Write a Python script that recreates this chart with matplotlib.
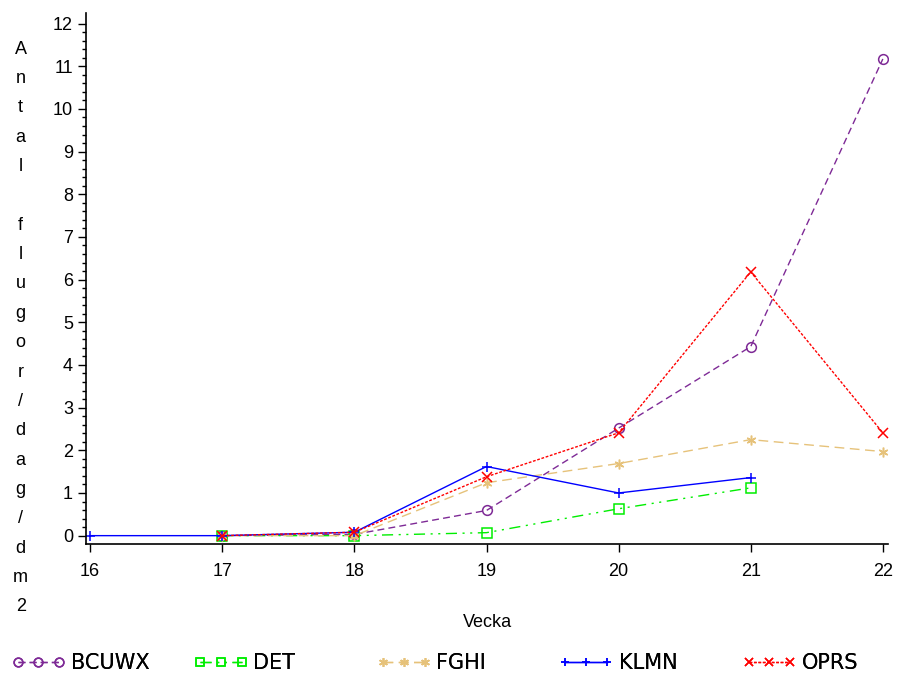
import matplotlib.pyplot as plt
import numpy as np

plt.rcParams['font.family'] = ['Liberation Sans', 'DejaVu Sans']

weeks = [16, 17, 18, 19, 20, 21, 22]
nan = np.nan

# Antal flugor/dag/dm2 per serie
bcuwx = [nan, 0.0, 0.03, 0.59, 2.52, 4.43, 11.17]
det = [nan, 0.0, 0.0, 0.07, 0.63, 1.12, nan]
fghi = [nan, 0.0, 0.0, 1.24, 1.69, 2.25, 1.97]
klmn = [0.0, 0.0, 0.08, 1.62, 1.0, 1.36, nan]
oprs = [nan, 0.0, 0.08, 1.38, 2.41, 6.18, 2.41]

names = ["BCUWX", "DET", "FGHI", "KLMN", "OPRS"]
series = [bcuwx, det, fghi, klmn, oprs]
colors = ["#7E2A96", "#00EE00", "#E6C27A", "#0000FF", "#FF0000"]
markers = ["o", "s", (6, 2, 0), "+", "x"]
styles = [(0, (5, 3)), (0, (8, 4, 1.5, 4, 1.5, 4)), (0, (7, 4)), "-", (0, (2, 1.2))]

fig = plt.figure(figsize=(8.98, 6.78), dpi=100)
ax = fig.add_axes([0.096, 0.198, 0.893, 0.783])

handles = []
for name, vals, c, m, ls in zip(names, series, colors, markers, styles):
    h, = ax.plot(weeks, vals, color=c, marker=m, linestyle=ls, linewidth=1.0,
                 markersize=7, markerfacecolor="none", markeredgecolor=c,
                 markeredgewidth=1.1, label=name)
    handles.append(h)

ax.set_xlim(15.97, 22.04)
ax.set_ylim(-0.19, 12.25)
ax.set_xticks(weeks)
ax.set_yticks(range(0, 13))
ax.set_yticks(np.arange(0, 12.01, 0.2), minor=True)
ax.tick_params(axis="both", which="major", labelsize=13, length=6, width=1)
ax.tick_params(axis="y", which="minor", length=3, width=1)
ax.tick_params(axis="x", pad=8)
for s in ["top", "right"]:
    ax.spines[s].set_visible(False)
ax.spines["left"].set_linewidth(1.2)
ax.spines["bottom"].set_linewidth(1.2)

ax.set_xlabel("Vecka", fontsize=13, labelpad=24)

ylab = "Antal flugor/dag/dm2"
fig.text(0.023, 0.94, "\n".join(ylab), fontsize=13, ha="center", va="top",
         linespacing=1.95)

# legend entries spaced evenly along the bottom
leg_x = [0.008, 0.211, 0.415, 0.618, 0.822]
for h, name, x in zip(handles, names, leg_x):
    leg = fig.legend([h], [name], loc="center left", bbox_to_anchor=(x, 0.022),
                     frameon=False, numpoints=3, handlelength=2.6,
                     handletextpad=0.25, borderaxespad=0, borderpad=0.2,
                     prop={"family": "DejaVu Sans", "size": 15},
                     markerscale=0.9)
    fig.add_artist(leg)

fig.savefig("out.png", dpi=100)
